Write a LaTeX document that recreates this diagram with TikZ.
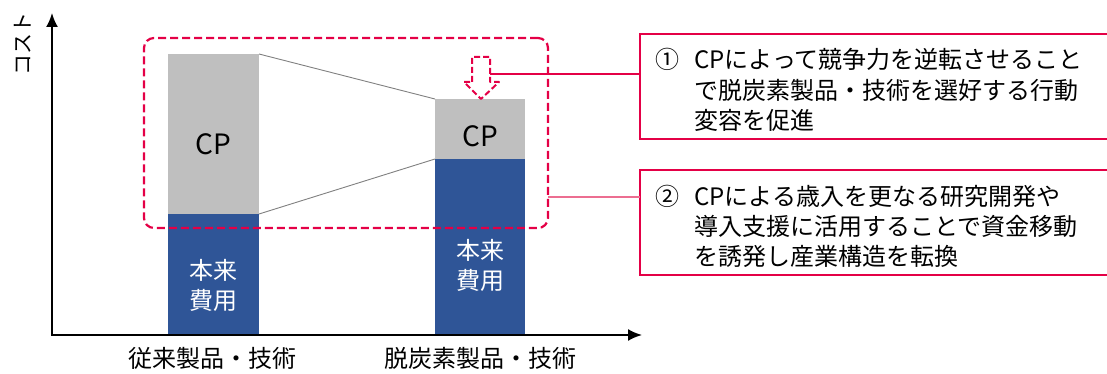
\documentclass[tikz,border=0pt]{standalone}
\usepackage{fontspec}
\setmainfont{Noto Sans CJK JP}
\usetikzlibrary{arrows.meta}
\definecolor{barblue}{RGB}{47,85,151}
\definecolor{bargray}{RGB}{191,191,191}
\definecolor{accent}{RGB}{228,0,70}
\definecolor{accentlight}{RGB}{236,110,145}
\begin{document}
\begin{tikzpicture}[x=1pt,y=-1pt,
  bar/.style={inner sep=0pt, outer sep=0pt, anchor=north west},
  graybar/.style={bar, fill=bargray},
  bluebar/.style={bar, fill=barblue},
  txt/.style={inner sep=0pt, font=\fontsize{24}{24}\selectfont, anchor=base west},
  ctxt/.style={inner sep=0pt, font=\fontsize{24}{24}\selectfont, anchor=base},
  cptxt/.style={inner sep=0pt, font=\fontsize{28}{28}\selectfont, anchor=base},
  wtxt/.style={ctxt, text=white},
  infobox/.style={draw=accent, line width=1.4pt, inner sep=0pt, outer sep=0pt, anchor=north west},
  axis/.style={line width=2pt, {Latex[length=14pt,width=12pt]}-{Latex[length=14pt,width=12pt]}},
  guide/.style={draw=gray, line width=0.9pt},
]
\useasboundingbox (0,0) rectangle (1107,374);

% bars
\node[graybar, minimum width=91pt, minimum height=160pt] (cp1) at (168,54) {};
\node[bluebar, minimum width=91pt, minimum height=121pt] (base1) at (168,214) {};
\node[graybar, minimum width=90pt, minimum height=60pt] (cp2) at (435,99) {};
\node[bluebar, minimum width=90pt, minimum height=176pt] (base2) at (435,159) {};

% guide lines
\draw[guide] (cp1.north east) -- (cp2.north west);
\draw[guide] (cp1.south east) -- (cp2.south west);

% bar texts
\node[cptxt] (cpl1) at (213.5,155) {CP};
\node[cptxt] (cpl2) at (480,147) {CP};
\node[wtxt] (hl1a) at (213.5,279) {本来};
\node[wtxt] (hl1b) at (213.5,309) {費用};
\node[wtxt] (hl2a) at (480,259) {本来};
\node[wtxt] (hl2b) at (480,289) {費用};

% axes
\coordinate (ytop) at (52,13);
\coordinate (orig) at (52,335);
\coordinate (xend) at (642,335);
\draw[axis] (ytop) -- (orig) -- (xend);
\node[inner sep=0pt, rotate=90, font=\fontsize{21}{21}\selectfont] (ylab) at (23,44) {コスト};
\node[ctxt] (xl1) at (212,367) {従来製品・技術};
\node[ctxt] (xl2) at (480,367) {脱炭素製品・技術};

% dashed group
\node[draw=accent, line width=2.2pt, dash pattern=on 8pt off 4pt, rounded corners=10pt,
      inner sep=0pt, outer sep=0pt, anchor=north west,
      minimum width=404pt, minimum height=190pt] (grp) at (144,38) {};

% dashed down arrow
\draw[accent, line width=2pt, dash pattern=on 6pt off 3pt, line join=round]
  (472,82) -- (472,57) -- (490,57) -- (490,82) -- (499,82) -- (481,99) -- (464,82) -- cycle;
\coordinate (arr) at (490,74);

% info boxes
\node[infobox, minimum width=470pt, minimum height=105pt] (box1) at (640,34) {};
\node[infobox, minimum width=470pt, minimum height=105pt] (box2) at (640,170) {};

\draw[accent, line width=1.3pt] (arr) -- (arr -| box1.west);
\coordinate (c2) at (548,197);
\draw[accentlight, line width=1.5pt] (c2) -- (c2 -| box2.west);

\node[txt] (n1) at (655,69) {①};
\node[txt] (t11) at (694,69) {CPによって競争力を逆転させること};
\node[txt] (t12) at (694,100) {で脱炭素製品・技術を選好する行動};
\node[txt] (t13) at (694,130) {変容を促進};

\node[txt] (n2) at (655,205) {②};
\node[txt] (t21) at (694,205) {CPによる歳入を更なる研究開発や};
\node[txt] (t22) at (694,235) {導入支援に活用することで資金移動};
\node[txt] (t23) at (694,265) {を誘発し産業構造を転換};
\end{tikzpicture}
\end{document}
